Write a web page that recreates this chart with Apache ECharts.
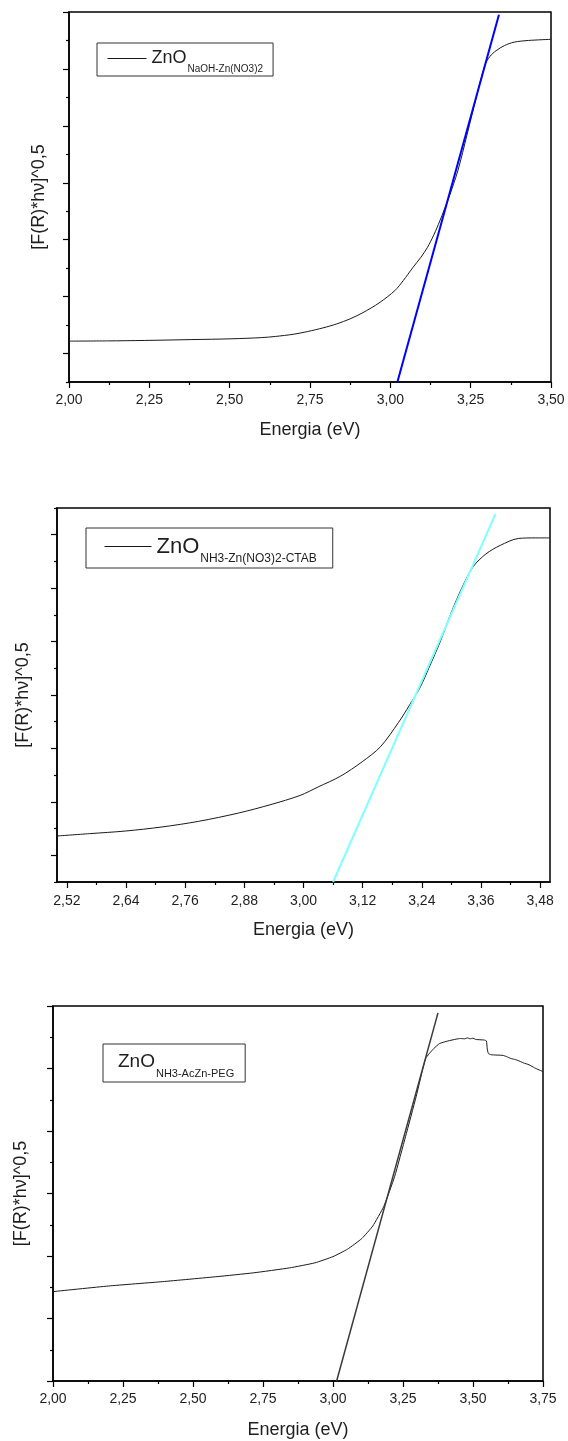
<!DOCTYPE html>
<html>
<head>
<meta charset="utf-8">
<script src="https://cdn.jsdelivr.net/npm/echarts@6/dist/echarts.min.js"></script>
<style>
html, body { margin: 0; padding: 0; background: #fff; }
#main { width: 568px; height: 1441px; }
</style>
</head>
<body>
<div id="main"></div>
<script>
// --- panel 1 : ZnO NaOH-Zn(NO3)2 ---
var energy1 = [2.00, 2.12, 2.236, 2.38, 2.507, 2.60, 2.642, 2.70, 2.743, 2.79, 2.833, 2.875, 2.912, 2.94, 2.968, 3.014, 3.04, 3.07, 3.095, 3.115, 3.135, 3.154, 3.182, 3.21, 3.239, 3.267, 3.295, 3.31, 3.329, 3.355, 3.385, 3.43, 3.50];
var signal1 = [0.718, 0.722, 0.730, 0.745, 0.759, 0.78, 0.80, 0.84, 0.887, 0.95, 1.02, 1.11, 1.21, 1.30, 1.40, 1.605, 1.78, 2.01, 2.19, 2.36, 2.58, 2.83, 3.24, 3.71, 4.35, 4.99, 5.575, 5.72, 5.82, 5.91, 5.97, 6.00, 6.02];
var fitEnergy1 = [3.022, 3.338];
var fitSignal1 = [0, 6.45];
var yMajor1 = [0.5, 1.5, 2.5, 3.5, 4.5, 5.5, 6.5];
var yMinor1 = [0, 1, 2, 3, 4, 5, 6];

// --- panel 2 : ZnO NH3-Zn(NO3)2-CTAB ---
var energy2 = [2.50, 2.566, 2.639, 2.713, 2.787, 2.868, 2.934, 2.993, 3.03, 3.075, 3.119, 3.156, 3.193, 3.215, 3.237, 3.255, 3.277, 3.30, 3.322, 3.344, 3.37, 3.399, 3.436, 3.47, 3.50];
var signal2 = [0.861, 0.905, 0.954, 1.03, 1.135, 1.29, 1.45, 1.62, 1.78, 1.98, 2.25, 2.53, 2.99, 3.31, 3.65, 4.02, 4.49, 5.05, 5.52, 5.90, 6.14, 6.30, 6.43, 6.44, 6.44];
var fitEnergy2 = [3.06, 3.3895];
var fitSignal2 = [0, 6.89];
var xLabels2 = [2.52, 2.64, 2.76, 2.88, 3.00, 3.12, 3.24, 3.36, 3.48];
var xMinor2 = [2.58, 2.70, 2.82, 2.94, 3.06, 3.18, 3.30, 3.42];
var yMajor2 = [0.5, 1.5, 2.5, 3.5, 4.5, 5.5, 6.5];
var yMinor2 = [0, 1, 2, 3, 4, 5, 6, 7];

// --- panel 3 : ZnO NH3-AcZn-PEG ---
var energy3 = [2.00, 2.198, 2.392, 2.586, 2.715, 2.845, 2.935, 3.00, 3.052, 3.103, 3.142, 3.181, 3.22, 3.259, 3.297, 3.331, 3.36, 3.381, 3.41, 3.44, 3.455, 3.47, 3.48, 3.49, 3.50, 3.51, 3.525, 3.541, 3.548, 3.551, 3.555, 3.565, 3.607, 3.62, 3.635, 3.645, 3.66, 3.68, 3.70, 3.72, 3.75];
var signal3 = [1.43, 1.52, 1.59, 1.67, 1.73, 1.81, 1.89, 1.99, 2.11, 2.28, 2.48, 2.79, 3.27, 3.91, 4.55, 5.16, 5.32, 5.40, 5.44, 5.47, 5.48, 5.475, 5.49, 5.475, 5.485, 5.465, 5.46, 5.455, 5.44, 5.31, 5.24, 5.22, 5.21, 5.19, 5.16, 5.15, 5.13, 5.09, 5.06, 5.01, 4.95];
var fitEnergy3 = [3.013, 3.375];
var fitSignal3 = [0, 5.89];

var names = ['ZnO NaOH-Zn(NO3)2', 'ZnO NH3-Zn(NO3)2-CTAB', 'ZnO NH3-AcZn-PEG'];
var subs = ['NaOH-Zn(NO3)2', 'NH3-Zn(NO3)2-CTAB', 'NH3-AcZn-PEG'];

function pairs(xs, ys) {
    return xs.map(function (x, i) { return [x, ys[i]]; });
}
function comma(v) {
    return v.toFixed(2).replace('.', ',');
}

var font = 'Liberation Sans';
var ink = '#1e1e1e';
var axisLine = { show: true, lineStyle: { color: '#000', width: 1.5 } };
var tickStyle = { color: '#000', width: 1.2 };

function energyAxis(grid, extra) {
    var ax = {
        type: 'value',
        gridIndex: grid,
        name: 'Energia (eV)',
        nameLocation: 'middle',
        nameGap: 39,
        nameTextStyle: { fontFamily: font, fontSize: 18, color: ink },
        axisLine: axisLine,
        axisTick: { show: true, length: 6, lineStyle: tickStyle },
        axisLabel: { fontFamily: font, fontSize: 14, color: ink, margin: 11, formatter: comma, showMinLabel: true, showMaxLabel: true },
        splitLine: { show: false }
    };
    for (var k in extra) ax[k] = extra[k];
    return ax;
}
function signalAxis(grid, extra) {
    var ax = {
        type: 'value',
        gridIndex: grid,
        position: 'left',
        name: '[F(R)*h\u03bd]^0,5',
        nameLocation: 'middle',
        nameTextStyle: { fontFamily: font, fontSize: 18, color: ink },
        axisLine: axisLine,
        axisTick: { show: true, length: 6, lineStyle: tickStyle },
        axisLabel: { show: false },
        splitLine: { show: false }
    };
    for (var k in extra) ax[k] = extra[k];
    return ax;
}
function minorAxis(grid, dim, min, max, values) {
    return {
        type: 'value',
        gridIndex: grid,
        position: dim === 'x' ? 'bottom' : 'left',
        min: min,
        max: max,
        axisLine: { show: false },
        axisTick: { show: true, length: 3, lineStyle: tickStyle, customValues: values },
        axisLabel: { show: false },
        splitLine: { show: false }
    };
}
function legendRich(bigSize, bigLine, subSize, subLine, subTop) {
    return {
        a: { fontFamily: font, fontSize: bigSize, lineHeight: bigLine, color: ink, verticalAlign: 'middle' },
        b: { fontFamily: font, fontSize: subSize, lineHeight: subLine, color: ink, padding: [subTop, 0, 0, 1] }
    };
}
function legendBox(i, left, top, padding, itemWidth, rich, showLine) {
    return {
        data: [names[i]],
        left: left,
        top: top,
        orient: 'horizontal',
        padding: padding,
        itemWidth: itemWidth,
        itemHeight: 10,
        borderColor: '#333',
        borderWidth: 1,
        selectedMode: false,
        itemStyle: { opacity: 0 },
        lineStyle: { width: 1, opacity: showLine ? 1 : 0 },
        formatter: function () { return '{a|ZnO}{b|' + subs[i] + '}'; },
        textStyle: { rich: rich }
    };
}

var chart = echarts.init(document.getElementById('main'));

option = {
    animation: false,
    backgroundColor: '#fff',
    grid: [
        { left: 69, top: 12, width: 482, height: 370, show: true, borderColor: '#000', borderWidth: 1.5 },
        { left: 57, top: 508, width: 493, height: 374, show: true, borderColor: '#000', borderWidth: 1.5 },
        { left: 53, top: 1006, width: 490, height: 375, show: true, borderColor: '#000', borderWidth: 1.5 }
    ],
    xAxis: [
        energyAxis(0, { min: 2, max: 3.5, interval: 0.25, minorTick: { show: true, splitNumber: 2, length: 3, lineStyle: tickStyle } }),
        energyAxis(1, {
            min: 2.5, max: 3.5, nameGap: 39,
            axisTick: { show: true, length: 6, lineStyle: tickStyle, customValues: xLabels2 },
            axisLabel: { fontFamily: font, fontSize: 14, color: ink, margin: 12, formatter: comma, customValues: xLabels2 }
        }),
        minorAxis(1, 'x', 2.5, 3.5, xMinor2),
        energyAxis(2, { min: 2, max: 3.75, interval: 0.25, nameGap: 40, minorTick: { show: true, splitNumber: 2, length: 3, lineStyle: tickStyle } })
    ],
    yAxis: [
        signalAxis(0, { min: 0, max: 6.5, nameGap: 21, axisTick: { show: true, length: 6, lineStyle: tickStyle, customValues: yMajor1 } }),
        minorAxis(0, 'y', 0, 6.5, yMinor1),
        signalAxis(1, { min: 0, max: 7, nameGap: 25, axisTick: { show: true, length: 6, lineStyle: tickStyle, customValues: yMajor2 } }),
        minorAxis(1, 'y', 0, 7, yMinor2),
        signalAxis(2, { min: 0, max: 6, interval: 1, nameGap: 23, minorTick: { show: true, splitNumber: 2, length: 3, lineStyle: tickStyle } })
    ],
    legend: [
        legendBox(0, 97, 43, [0, 10, 2, 10], 39, legendRich(18, 28, 10, 7, 21), true),
        legendBox(1, 86, 528, [0, 16, 3, 18], 47, legendRich(22, 34, 12, 9, 25), true),
        legendBox(2, 103, 1044, [0, 11, 3, 6], 0, legendRich(19, 32, 11, 8, 24), false)
    ],
    series: [
        { name: names[0], type: 'line', xAxisIndex: 0, yAxisIndex: 0, data: pairs(energy1, signal1), smooth: 0.3, symbol: 'none', lineStyle: { color: '#1a1a1a', width: 1 }, itemStyle: { color: '#1a1a1a' } },
        { name: 'fit1', type: 'line', xAxisIndex: 0, yAxisIndex: 0, data: pairs(fitEnergy1, fitSignal1), symbol: 'none', lineStyle: { color: '#0000ff', width: 2 } },
        { name: names[1], type: 'line', xAxisIndex: 1, yAxisIndex: 2, data: pairs(energy2, signal2), smooth: 0.3, symbol: 'none', lineStyle: { color: '#1a1a1a', width: 1 }, itemStyle: { color: '#1a1a1a' } },
        { name: 'fit2', type: 'line', xAxisIndex: 1, yAxisIndex: 2, data: pairs(fitEnergy2, fitSignal2), symbol: 'none', lineStyle: { color: '#80ffff', width: 2 } },
        { name: names[2], type: 'line', xAxisIndex: 3, yAxisIndex: 4, data: pairs(energy3, signal3), smooth: 0.15, symbol: 'none', lineStyle: { color: '#1a1a1a', width: 1 }, itemStyle: { color: '#1a1a1a' } },
        { name: 'fit3', type: 'line', xAxisIndex: 3, yAxisIndex: 4, data: pairs(fitEnergy3, fitSignal3), symbol: 'none', lineStyle: { color: '#3a3a3a', width: 1.5 } }
    ]
};
chart.setOption(option);
</script>
</body>
</html>
